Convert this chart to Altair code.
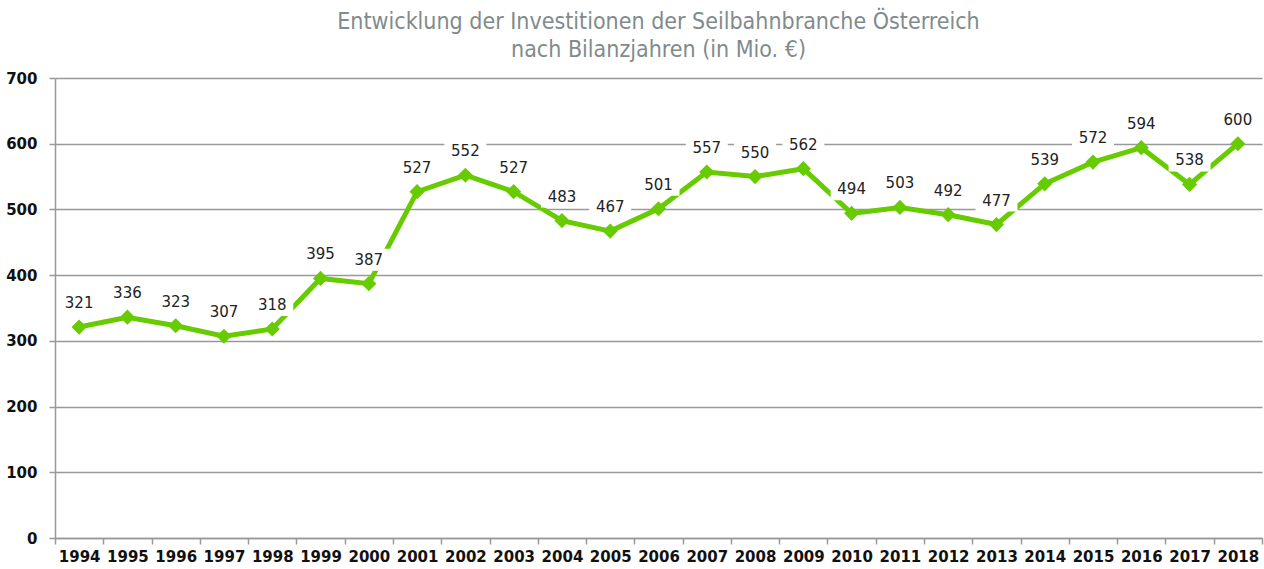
import altair as alt
import pandas as pd

years = [str(y) for y in range(1994, 2019)]
values = [321, 336, 323, 307, 318, 395, 387, 527, 552, 527, 483, 467, 501,
          557, 550, 562, 494, 503, 492, 477, 539, 572, 594, 538, 600]
y_ticks = [0, 100, 200, 300, 400, 500, 600, 700]

df = pd.DataFrame({"year": years, "value": values})

GREEN = "#66cc00"
GRID = "#999999"

x = alt.X("year:N", sort=years, title=None,
          scale=alt.Scale(paddingInner=0, paddingOuter=0),
          axis=alt.Axis(labelAngle=0, labelFont="DejaVu Sans", labelFontWeight="bold",
                        labelFontSize=15, labelColor="#111111", labelPadding=5,
                        tickBand="extent", tickColor=GRID, tickSize=6, tickWidth=1.5,
                        domainColor=GRID, domainWidth=1.5, grid=False))
y = alt.Y("value:Q", title=None,
          scale=alt.Scale(domain=[0, 700], nice=False, zero=True),
          axis=alt.Axis(values=y_ticks, labelFont="DejaVu Sans", labelFontWeight="bold",
                        labelFontSize=15, labelColor="#111111", labelPadding=12,
                        tickColor=GRID, tickSize=6, tickWidth=1.5,
                        domainColor=GRID, domainWidth=1.5,
                        grid=True, gridColor=GRID, gridWidth=1.5))

base = alt.Chart(df).encode(x=x, y=y)

line = base.mark_line(color=GREEN, strokeWidth=5)
pts = base.mark_point(shape="diamond", filled=True, color=GREEN, size=230, opacity=1)
boxes = base.mark_rect(color="white", width=42, height=22, yOffset=-24)
labels = base.mark_text(font="DejaVu Sans", fontSize=15, color="#222222",
                        dy=-24).encode(text="value:Q")

chart = alt.layer(line, pts, boxes, labels).properties(
    width=1207, height=460,
    title=alt.TitleParams(
        text=["Entwicklung der Investitionen der Seilbahnbranche Österreich",
              "nach Bilanzjahren (in Mio. €)"],
        font="DejaVu Sans Condensed", fontSize=23, fontWeight="normal",
        color="#7f8b8c", anchor="middle", offset=9, lineHeight=28),
    autosize=alt.AutoSizeParams(type="none"),
    padding={"left": 55, "top": 78, "right": 2, "bottom": 31},
).configure_view(stroke=None)

chart.save("out.html", embed_options={"renderer": "svg", "actions": False})
